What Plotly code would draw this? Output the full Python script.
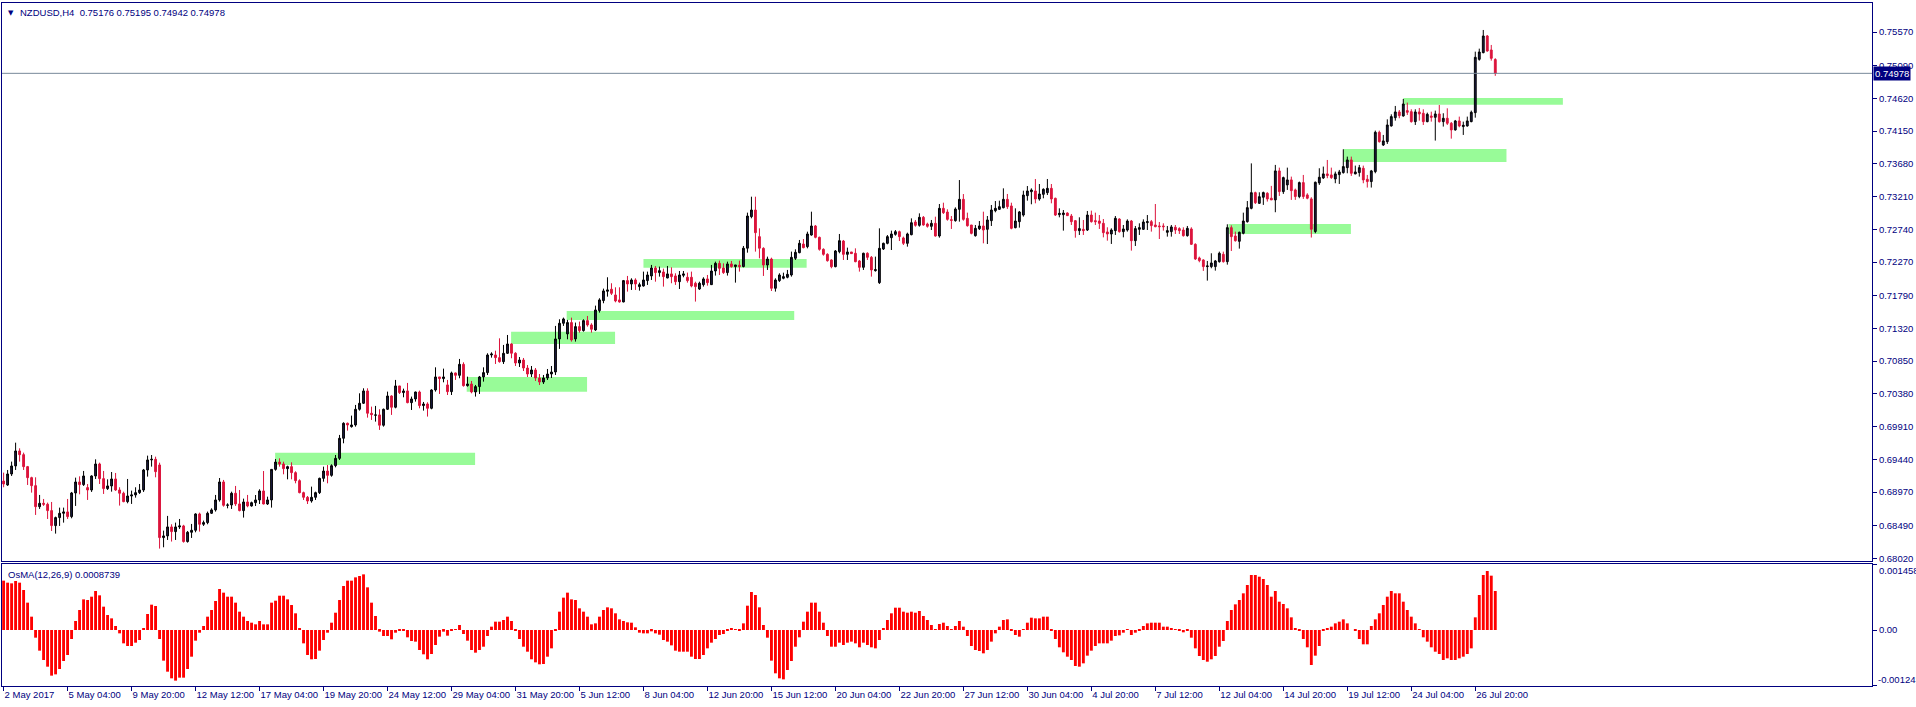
import plotly.graph_objects as go

# ---------------- data ----------------
symbol_title = "NZDUSD,H4  0.75176 0.75195 0.74942 0.74978"
osma_title = "OsMA(12,26,9) 0.0008739"

opens = [
0.69129,0.69072,0.69230,0.69345,0.69560,0.69507,0.69335,0.69177,0.69062,0.68761,
0.68809,0.68795,0.68704,0.68489,0.68604,0.68666,0.68685,0.68618,0.68957,0.69115,
0.69077,0.69034,0.69000,0.69201,0.69373,0.69163,0.69020,0.69058,0.69158,0.69000,
0.68953,0.68833,0.68914,0.68929,0.68962,0.69000,0.69287,0.69431,0.69440,0.69359,
0.68317,0.68341,0.68470,0.68403,0.68470,0.68484,0.68260,0.68393,0.68422,0.68656,
0.68508,0.68532,0.68666,0.68714,0.68857,0.69115,0.68780,0.68785,0.68953,0.68800,
0.68704,0.68828,0.68771,0.68818,0.68857,0.68986,0.68799,0.68857,0.69296,0.69401,
0.69373,0.69306,0.69335,0.69249,0.69134,0.68962,0.68895,0.68842,0.68895,0.68962,
0.69167,0.69272,0.69210,0.69349,0.69454,0.69742,0.69957,0.69909,0.69933,0.70158,
0.70244,0.70421,0.70101,0.70072,0.70077,0.69929,0.70158,0.70349,0.70187,0.70493,
0.70397,0.70421,0.70253,0.70306,0.70406,0.70211,0.70234,0.70172,0.70435,0.70622,
0.70598,0.70507,0.70411,0.70679,0.70645,0.70803,0.70497,0.70521,0.70406,0.70483,
0.70622,0.70684,0.70937,0.70937,0.70899,0.70841,0.70961,0.71095,0.70962,0.70822,
0.70865,0.70750,0.70664,0.70722,0.70607,0.70549,0.70607,0.70664,0.70693,0.71167,
0.71392,0.71239,0.71402,0.71167,0.71344,0.71287,0.71430,0.71368,0.71296,0.71574,
0.71717,0.71851,0.71880,0.71798,0.71727,0.71698,0.72004,0.71956,0.72013,0.71918,
0.71927,0.72004,0.72071,0.72185,0.72119,0.72128,0.72042,0.72100,0.72071,0.71989,
0.72080,0.72052,0.72052,0.71966,0.71884,0.71946,0.72028,0.71946,0.72142,0.72252,
0.72185,0.72119,0.72243,0.72205,0.72224,0.72205,0.72469,0.72922,0.73017,0.72635,
0.72467,0.72228,0.72314,0.71894,0.72004,0.72037,0.72052,0.72085,0.72324,0.72405,
0.72529,0.72491,0.72658,0.72788,0.72625,0.72453,0.72381,0.72300,0.72204,0.72420,
0.72572,0.72381,0.72415,0.72396,0.72286,0.72195,0.72396,0.72338,0.72147,0.71975,
0.72458,0.72539,0.72620,0.72668,0.72706,0.72616,0.72539,0.72663,0.72845,0.72797,
0.72912,0.72816,0.72783,0.72826,0.72644,0.73041,0.72988,0.72878,0.72864,0.73027,
0.73170,0.72897,0.72802,0.72649,0.72749,0.72788,0.72740,0.72864,0.73007,0.73027,
0.73050,0.73170,0.73075,0.72764,0.72850,0.72945,0.73223,0.73280,0.73290,0.73175,
0.73242,0.73266,0.73328,0.73185,0.72950,0.72950,0.72974,0.72931,0.72864,0.72721,
0.72740,0.72730,0.72945,0.72864,0.72859,0.72826,0.72702,0.72673,0.72721,0.72888,
0.72707,0.72730,0.72859,0.72577,0.72740,0.72740,0.72836,0.72850,0.72802,0.72788,
0.72788,0.72697,0.72707,0.72769,0.72750,0.72730,0.72649,0.72745,0.72525,0.72329,
0.72300,0.72205,0.72205,0.72205,0.72276,0.72381,0.72276,0.72764,0.72644,0.72568,
0.72683,0.72850,0.73041,0.73266,0.73113,0.73200,0.73257,0.73186,0.73162,0.73578,
0.73281,0.73377,0.73449,0.73305,0.73210,0.73410,0.73233,0.73176,0.72708,0.73406,
0.73477,0.73535,0.73520,0.73463,0.73525,0.73554,0.73625,0.73735,0.73535,0.73554,
0.73616,0.73458,0.73425,0.73568,0.74132,0.73950,0.73998,0.74223,0.74342,0.74424,
0.74366,0.74443,0.74428,0.74285,0.74424,0.74405,0.74285,0.74366,0.74347,0.74395,
0.74285,0.74333,0.74261,0.74166,0.74295,0.74214,0.74223,0.74285,0.74414,0.75179,
0.75275,0.75514,0.75313,0.75176]

highs = [
0.69249,0.69287,0.69407,0.69679,0.69598,0.69536,0.69345,0.69190,0.69182,0.68929,
0.68871,0.68819,0.68828,0.68618,0.68747,0.68747,0.68871,0.68972,0.69177,0.69196,
0.69273,0.69086,0.69211,0.69440,0.69392,0.69273,0.69153,0.69258,0.69244,0.69039,
0.68976,0.69158,0.68991,0.69039,0.69086,0.69302,0.69493,0.69502,0.69478,0.69392,
0.68417,0.68628,0.68508,0.68532,0.68584,0.68500,0.68412,0.68513,0.68666,0.68675,
0.68561,0.68690,0.68737,0.68929,0.69172,0.69144,0.68809,0.68976,0.69058,0.69000,
0.68876,0.68929,0.68833,0.68928,0.69010,0.69272,0.68904,0.69301,0.69445,0.69454,
0.69406,0.69349,0.69397,0.69268,0.69153,0.68976,0.68914,0.69048,0.68976,0.69177,
0.69335,0.69358,0.69368,0.69502,0.69790,0.69971,0.69967,0.70067,0.70220,0.70387,
0.70459,0.70459,0.70196,0.70206,0.70158,0.70168,0.70411,0.70359,0.70579,0.70493,
0.70454,0.70536,0.70340,0.70411,0.70426,0.70263,0.70258,0.70445,0.70760,0.70622,
0.70741,0.70579,0.70698,0.70684,0.70880,0.70832,0.70626,0.70564,0.70507,0.70636,
0.70760,0.70961,0.70975,0.70999,0.71176,0.71081,0.71224,0.71105,0.70976,0.70908,
0.70894,0.70793,0.70779,0.70750,0.70664,0.70650,0.70736,0.70779,0.71354,0.71449,
0.71473,0.71440,0.71473,0.71402,0.71416,0.71449,0.71497,0.71392,0.71645,0.71751,
0.71889,0.72052,0.71966,0.71908,0.71908,0.72013,0.72071,0.72037,0.72037,0.71975,
0.72133,0.72133,0.72229,0.72214,0.72205,0.72176,0.72214,0.72195,0.72109,0.72142,
0.72142,0.72119,0.72133,0.71989,0.71989,0.72052,0.72085,0.72229,0.72276,0.72291,
0.72252,0.72276,0.72286,0.72229,0.72291,0.72501,0.72979,0.73208,0.73208,0.72754,
0.72482,0.72348,0.72333,0.72037,0.72109,0.72118,0.72157,0.72420,0.72453,0.72587,
0.72601,0.72706,0.72993,0.72802,0.72635,0.72467,0.72396,0.72310,0.72443,0.72673,
0.72587,0.72477,0.72415,0.72467,0.72300,0.72405,0.72410,0.72357,0.72348,0.72754,
0.72549,0.72658,0.72721,0.72730,0.72721,0.72635,0.72692,0.72897,0.72874,0.72969,
0.72931,0.72835,0.72874,0.72921,0.73103,0.73122,0.73027,0.72931,0.73055,0.73447,
0.73246,0.72979,0.72802,0.72802,0.72859,0.72993,0.72931,0.73089,0.73146,0.73151,
0.73328,0.73247,0.73122,0.73041,0.73003,0.73294,0.73361,0.73328,0.73462,0.73390,
0.73328,0.73462,0.73390,0.73194,0.73041,0.73017,0.72984,0.72960,0.72874,0.72912,
0.72874,0.73003,0.73008,0.72979,0.72945,0.72888,0.72769,0.72754,0.72931,0.72898,
0.72802,0.72883,0.72874,0.72788,0.72826,0.72883,0.72945,0.72874,0.73103,0.72845,
0.72826,0.72788,0.72802,0.72802,0.72769,0.72769,0.72788,0.72769,0.72539,0.72348,
0.72310,0.72286,0.72396,0.72300,0.72420,0.72420,0.72812,0.72797,0.72707,0.72707,
0.72979,0.73146,0.73686,0.73280,0.73271,0.73281,0.73272,0.73363,0.73664,0.73625,
0.73496,0.73625,0.73496,0.73324,0.73425,0.73520,0.73257,0.73200,0.73425,0.73616,
0.73640,0.73735,0.73625,0.73568,0.73592,0.73888,0.73783,0.73783,0.73654,0.73664,
0.73654,0.73520,0.73592,0.74156,0.74156,0.74094,0.74318,0.74390,0.74510,0.74452,
0.74610,0.74558,0.74462,0.74462,0.74481,0.74462,0.74414,0.74428,0.74443,0.74524,
0.74405,0.74476,0.74280,0.74309,0.74357,0.74285,0.74357,0.74443,0.75289,0.75332,
0.75600,0.75528,0.75385,0.75195]

lows = [
0.69039,0.69058,0.69201,0.69287,0.69407,0.69287,0.69072,0.68962,0.68642,0.68728,
0.68771,0.68584,0.68412,0.68374,0.68484,0.68532,0.68584,0.68594,0.68771,0.68938,
0.69058,0.68857,0.68972,0.69158,0.69086,0.68943,0.69000,0.68976,0.68986,0.68776,
0.68824,0.68809,0.68800,0.68890,0.68943,0.68972,0.69192,0.69335,0.69182,0.68159,
0.68178,0.68283,0.68260,0.68283,0.68441,0.68245,0.68245,0.68312,0.68393,0.68403,
0.68484,0.68508,0.68656,0.68690,0.68833,0.68761,0.68737,0.68728,0.68771,0.68694,
0.68604,0.68752,0.68761,0.68770,0.68799,0.68794,0.68785,0.68747,0.69277,0.69335,
0.69225,0.69153,0.69153,0.69096,0.68952,0.68857,0.68799,0.68818,0.68857,0.68943,
0.69119,0.69096,0.69191,0.69325,0.69431,0.69670,0.69852,0.69895,0.69909,0.70139,
0.70234,0.70038,0.70005,0.69981,0.69862,0.69909,0.70148,0.70077,0.70172,0.70378,
0.70330,0.70244,0.70148,0.70268,0.70172,0.70139,0.70053,0.70158,0.70411,0.70378,
0.70545,0.70363,0.70363,0.70579,0.70603,0.70483,0.70483,0.70387,0.70340,0.70378,
0.70555,0.70650,0.70899,0.70808,0.70827,0.70808,0.70951,0.70890,0.70779,0.70765,
0.70707,0.70621,0.70621,0.70564,0.70506,0.70521,0.70578,0.70607,0.70650,0.71024,
0.71354,0.71162,0.71129,0.71129,0.71258,0.71272,0.71344,0.71258,0.71282,0.71545,
0.71679,0.71774,0.71798,0.71693,0.71688,0.71693,0.71846,0.71870,0.71870,0.71860,
0.71918,0.71942,0.72013,0.71989,0.72061,0.71918,0.72037,0.71966,0.71942,0.71884,
0.72052,0.71975,0.71908,0.71703,0.71870,0.71918,0.71932,0.71942,0.72076,0.72085,
0.72100,0.72076,0.72190,0.71975,0.72133,0.72195,0.72405,0.72898,0.72420,0.72324,
0.72071,0.72157,0.71855,0.71846,0.71985,0.72023,0.72037,0.72061,0.72300,0.72396,
0.72467,0.72467,0.72649,0.72611,0.72434,0.72362,0.72276,0.72181,0.72195,0.72396,
0.72300,0.72300,0.72386,0.72267,0.72133,0.72157,0.72300,0.72061,0.72133,0.71956,
0.72443,0.72525,0.72443,0.72649,0.72572,0.72515,0.72491,0.72654,0.72778,0.72778,
0.72792,0.72764,0.72730,0.72635,0.72620,0.72960,0.72864,0.72745,0.72850,0.72850,
0.72864,0.72778,0.72668,0.72635,0.72730,0.72539,0.72529,0.72788,0.72984,0.73017,
0.73041,0.73032,0.72740,0.72754,0.72764,0.72922,0.73151,0.73099,0.73113,0.73151,
0.73185,0.73232,0.73113,0.72931,0.72912,0.72721,0.72931,0.72802,0.72620,0.72659,
0.72659,0.72716,0.72836,0.72802,0.72745,0.72625,0.72577,0.72530,0.72659,0.72692,
0.72625,0.72707,0.72434,0.72501,0.72659,0.72730,0.72730,0.72707,0.72769,0.72601,
0.72721,0.72635,0.72635,0.72673,0.72673,0.72635,0.72635,0.72515,0.72300,0.72267,
0.72143,0.72004,0.72181,0.72147,0.72262,0.72262,0.72233,0.72429,0.72563,0.72463,
0.72668,0.72836,0.73027,0.73103,0.73103,0.73090,0.73138,0.73162,0.72985,0.73219,
0.73248,0.73305,0.73162,0.73162,0.73186,0.73176,0.73171,0.72622,0.72684,0.73377,
0.73463,0.73473,0.73463,0.73401,0.73391,0.73539,0.73544,0.73506,0.73530,0.73496,
0.73401,0.73339,0.73339,0.73544,0.73984,0.73936,0.73965,0.74214,0.74299,0.74333,
0.74357,0.74381,0.74271,0.74237,0.74299,0.74237,0.74276,0.74285,0.74013,0.74271,
0.74214,0.74237,0.74041,0.74156,0.74204,0.74094,0.74214,0.74276,0.74342,0.75160,
0.75265,0.75289,0.75160,0.74942]

closes = [
0.69086,0.69230,0.69345,0.69560,0.69507,0.69335,0.69177,0.69062,0.68761,0.68809,
0.68795,0.68704,0.68489,0.68604,0.68666,0.68685,0.68618,0.68957,0.69115,0.69077,
0.69201,0.69000,0.69201,0.69373,0.69163,0.69020,0.69058,0.69158,0.69000,0.68953,
0.68833,0.68914,0.68929,0.68962,0.69000,0.69287,0.69431,0.69440,0.69263,0.68317,
0.68341,0.68470,0.68403,0.68470,0.68484,0.68260,0.68393,0.68422,0.68656,0.68508,
0.68532,0.68666,0.68714,0.68857,0.69115,0.68780,0.68785,0.68953,0.68800,0.68704,
0.68828,0.68771,0.68818,0.68857,0.68986,0.68799,0.68857,0.69296,0.69401,0.69373,
0.69306,0.69335,0.69249,0.69134,0.68962,0.68895,0.68842,0.68895,0.68962,0.69167,
0.69272,0.69210,0.69349,0.69454,0.69742,0.69957,0.69933,0.69933,0.70158,0.70244,
0.70421,0.70101,0.70081,0.70077,0.69929,0.70158,0.70349,0.70187,0.70493,0.70397,
0.70421,0.70253,0.70306,0.70406,0.70211,0.70234,0.70172,0.70435,0.70622,0.70598,
0.70622,0.70411,0.70679,0.70645,0.70803,0.70497,0.70521,0.70406,0.70483,0.70622,
0.70684,0.70937,0.70951,0.70899,0.70841,0.70961,0.71095,0.70962,0.70822,0.70865,
0.70750,0.70664,0.70722,0.70607,0.70549,0.70607,0.70664,0.70693,0.71167,0.71392,
0.71454,0.71402,0.71153,0.71344,0.71287,0.71430,0.71368,0.71306,0.71583,0.71727,
0.71856,0.71870,0.71822,0.71712,0.71698,0.72004,0.71956,0.72013,0.71956,0.71946,
0.72013,0.72085,0.72185,0.72119,0.72147,0.72061,0.72100,0.72061,0.71989,0.72085,
0.72100,0.72004,0.71927,0.71918,0.71966,0.72028,0.71975,0.72142,0.72252,0.72181,
0.72119,0.72243,0.72205,0.72229,0.72205,0.72469,0.72931,0.73017,0.72692,0.72469,
0.72228,0.72314,0.71894,0.72013,0.72085,0.72061,0.72094,0.72338,0.72410,0.72539,
0.72477,0.72673,0.72788,0.72625,0.72453,0.72381,0.72290,0.72204,0.72429,0.72577,
0.72381,0.72415,0.72391,0.72276,0.72195,0.72396,0.72338,0.72157,0.72161,0.72467,
0.72539,0.72635,0.72673,0.72706,0.72635,0.72539,0.72673,0.72835,0.72797,0.72912,
0.72802,0.72783,0.72826,0.72644,0.73041,0.72979,0.72883,0.72869,0.73031,0.73170,
0.72883,0.72792,0.72682,0.72754,0.72788,0.72730,0.72874,0.73017,0.73041,0.73065,
0.73170,0.73065,0.72754,0.72859,0.72989,0.73232,0.73290,0.73304,0.73175,0.73247,
0.73314,0.73328,0.73175,0.72945,0.72969,0.72974,0.72936,0.72850,0.72721,0.72750,
0.72721,0.72945,0.72850,0.72850,0.72826,0.72692,0.72673,0.72730,0.72898,0.72707,
0.72745,0.72859,0.72577,0.72750,0.72764,0.72845,0.72850,0.72793,0.72778,0.72778,
0.72778,0.72721,0.72774,0.72730,0.72721,0.72649,0.72754,0.72525,0.72315,0.72291,
0.72205,0.72214,0.72257,0.72286,0.72396,0.72276,0.72764,0.72635,0.72577,0.72697,
0.72859,0.73051,0.73266,0.73122,0.73208,0.73267,0.73176,0.73162,0.73578,0.73281,
0.73482,0.73449,0.73295,0.73210,0.73410,0.73210,0.73186,0.72741,0.73415,0.73487,
0.73535,0.73511,0.73482,0.73535,0.73563,0.73640,0.73735,0.73544,0.73563,0.73625,
0.73449,0.73425,0.73578,0.74132,0.73998,0.74008,0.74237,0.74357,0.74424,0.74371,
0.74538,0.74419,0.74285,0.74424,0.74395,0.74285,0.74390,0.74347,0.74395,0.74285,
0.74333,0.74261,0.74166,0.74295,0.74223,0.74233,0.74295,0.74419,0.75208,0.75284,
0.75514,0.75298,0.75193,0.74978]

osma = [
0.001106,0.001061,0.001046,0.001098,0.001061,0.000896,0.000613,0.000299,-0.000172,-0.000463,
-0.000672,-0.000822,-0.001023,-0.000994,-0.000874,-0.000695,-0.000560,-0.000202,0.000202,0.000448,
0.000687,0.000672,0.000747,0.000874,0.000777,0.000523,0.000336,0.000261,0.000090,-0.000075,
-0.000299,-0.000359,-0.000359,-0.000284,-0.000224,0.000037,0.000359,0.000568,0.000538,-0.000202,
-0.000687,-0.000934,-0.001083,-0.001135,-0.001068,-0.001068,-0.000874,-0.000598,-0.000239,-0.000060,
0.000090,0.000299,0.000448,0.000650,0.000919,0.000837,0.000747,0.000747,0.000613,0.000411,
0.000299,0.000202,0.000164,0.000127,0.000202,0.000127,0.000127,0.000613,0.000657,0.000769,
0.000769,0.000687,0.000560,0.000374,0.000037,-0.000299,-0.000560,-0.000657,-0.000650,-0.000463,
-0.000224,-0.000060,0.000164,0.000388,0.000672,0.000986,0.001106,0.001106,0.001180,0.001210,
0.001247,0.000956,0.000613,0.000314,-0.000037,-0.000134,-0.000134,-0.000209,-0.000060,-0.000022,
-0.000015,-0.000164,-0.000247,-0.000261,-0.000448,-0.000545,-0.000657,-0.000538,-0.000336,-0.000149,
-0.000037,-0.000127,-0.000015,0.000022,0.000112,-0.000090,-0.000239,-0.000448,-0.000508,-0.000448,
-0.000374,-0.000134,0.000075,0.000187,0.000187,0.000224,0.000299,0.000202,-0.000022,-0.000202,
-0.000374,-0.000486,-0.000657,-0.000725,-0.000769,-0.000762,-0.000598,-0.000411,-0.000022,0.000411,
0.000725,0.000837,0.000687,0.000672,0.000486,0.000411,0.000299,0.000127,0.000149,0.000299,
0.000448,0.000508,0.000486,0.000374,0.000239,0.000202,0.000172,0.000164,0.000060,-0.000060,
-0.000075,-0.000075,-0.000030,-0.000075,-0.000105,-0.000224,-0.000261,-0.000344,-0.000463,-0.000486,
-0.000486,-0.000486,-0.000598,-0.000650,-0.000650,-0.000560,-0.000411,-0.000284,-0.000202,-0.000112,
-0.000090,-0.000022,0.000030,0.000015,-0.000022,0.000149,0.000545,0.000852,0.000784,0.000508,
0.000112,-0.000172,-0.000687,-0.000971,-0.001083,-0.001106,-0.000896,-0.000695,-0.000374,-0.000164,
0.000187,0.000411,0.000613,0.000613,0.000411,0.000164,-0.000134,-0.000374,-0.000374,-0.000284,
-0.000336,-0.000284,-0.000261,-0.000299,-0.000388,-0.000284,-0.000336,-0.000388,-0.000411,-0.000224,
0.000037,0.000224,0.000374,0.000500,0.000500,0.000411,0.000388,0.000411,0.000388,0.000426,
0.000314,0.000224,0.000112,0.000015,0.000134,0.000164,0.000090,0.000022,0.000090,0.000202,
0.000075,-0.000134,-0.000359,-0.000448,-0.000471,-0.000523,-0.000448,-0.000261,-0.000075,0.000075,
0.000224,0.000239,-0.000015,-0.000112,-0.000149,0.000022,0.000164,0.000276,0.000261,0.000261,
0.000299,0.000299,-0.000015,-0.000202,-0.000388,-0.000500,-0.000598,-0.000672,-0.000807,-0.000822,
-0.000747,-0.000575,-0.000463,-0.000359,-0.000299,-0.000299,-0.000299,-0.000239,-0.000134,-0.000120,
-0.000060,0.000015,-0.000112,-0.000060,-0.000022,0.000090,0.000149,0.000164,0.000164,0.000164,
0.000075,0.000075,0.000037,0.000015,-0.000022,-0.000052,-0.000015,-0.000172,-0.000411,-0.000583,
-0.000672,-0.000710,-0.000657,-0.000583,-0.000374,-0.000247,0.000202,0.000448,0.000575,0.000672,
0.000822,0.001008,0.001233,0.001233,0.001195,0.001143,0.001008,0.000747,0.000874,0.000635,
0.000583,0.000486,0.000284,0.000037,-0.000022,-0.000202,-0.000388,-0.000784,-0.000575,-0.000359,
-0.000022,0.000037,0.000075,0.000149,0.000187,0.000239,0.000149,0.000000,-0.000022,-0.000202,
-0.000321,-0.000321,0.000090,0.000239,0.000374,0.000560,0.000747,0.000874,0.000822,0.000822,
0.000635,0.000448,0.000299,0.000149,0.000015,-0.000164,-0.000261,-0.000388,-0.000486,-0.000538,
-0.000672,-0.000635,-0.000672,-0.000672,-0.000635,-0.000598,-0.000538,-0.000411,0.000284,0.000784,
0.001233,0.001322,0.001218,0.0008739]

# time-axis labels (one every 16 H4 bars)
date_tick_bars = [0, 16, 32, 48, 64, 80, 96, 112, 128, 144, 160, 176, 192, 208, 224, 240,
                  256, 272, 288, 304, 320, 336, 352, 368]
date_tick_labels = ["2 May 2017", "5 May 04:00", "9 May 20:00", "12 May 12:00", "17 May 04:00",
                    "19 May 20:00", "24 May 12:00", "29 May 04:00", "31 May 20:00", "5 Jun 12:00",
                    "8 Jun 04:00", "12 Jun 20:00", "15 Jun 12:00", "20 Jun 04:00", "22 Jun 20:00",
                    "27 Jun 12:00", "30 Jun 04:00", "4 Jul 20:00", "7 Jul 12:00", "12 Jul 04:00",
                    "14 Jul 20:00", "19 Jul 12:00", "24 Jul 04:00", "26 Jul 20:00"]

price_ticks = [0.75570, 0.75090, 0.74620, 0.74150, 0.73680, 0.73210, 0.72740, 0.72270, 0.71790,
               0.71320, 0.70850, 0.70380, 0.69910, 0.69440, 0.68970, 0.68490, 0.68020]
osma_max_label = "0.001458"
osma_zero_label = "0.00"
osma_min_label = "-0.001243"
osma_ticks = [0.001458, 0.0, -0.001243]

# supply / demand zones (bar index span, price span)
zone_start = [67.9, 115.8, 126.9, 140.8, 160.0, 306.3, 335.0, 350.0]
zone_end = [117.9, 145.9, 152.9, 197.7, 200.8, 336.9, 375.8, 389.9]
zone_low = [0.69359, 0.70410, 0.71095, 0.71439, 0.72189, 0.72673, 0.73706, 0.74528]
zone_high = [0.69535, 0.70621, 0.71271, 0.71567, 0.72314, 0.72816, 0.73892, 0.74624]

# ---------------- figure ----------------
NAVY = "#000080"
FONT = "Tahoma, 'Liberation Sans', Arial, sans-serif"
FS = 9.5
bars = list(range(len(closes)))
last_price = closes[-1]

fig = go.Figure()
fig.add_trace(go.Candlestick(
    x=bars, open=opens, high=highs, low=lows, close=closes,
    increasing=dict(line=dict(color="#000000", width=1), fillcolor="#1c1c44"),
    decreasing=dict(line=dict(color="#DC143C", width=1), fillcolor="#DC143C"),
    whiskerwidth=0, xaxis="x", yaxis="y", hoverinfo="skip", showlegend=False))
fig.add_trace(go.Bar(
    x=bars, y=osma, width=0.72, marker=dict(color="#FF0000", line=dict(width=0)),
    xaxis="x2", yaxis="y2", hoverinfo="skip", showlegend=False))

shapes = []
for x0, x1, lo, hi in zip(zone_start, zone_end, zone_low, zone_high):
    shapes.append(dict(type="rect", xref="x", yref="y", x0=x0, x1=x1, y0=lo, y1=hi,
                       fillcolor="#98FB98", line=dict(width=0), layer="below"))
shapes.append(dict(type="line", xref="paper", yref="y", x0=0, x1=1, y0=last_price, y1=last_price,
                   line=dict(color="#778899", width=1)))

xr = [-0.4, 467.2]
common_x = dict(range=xr, showgrid=False, zeroline=False, showline=True, mirror=True,
                linecolor=NAVY, linewidth=1, fixedrange=True, automargin=False)
common_y = dict(side="right", showgrid=False, zeroline=False, showline=True, mirror=True,
                linecolor=NAVY, linewidth=1, ticks="outside", ticklen=4, tickcolor=NAVY,
                tickfont=dict(family=FONT, size=FS, color=NAVY), automargin=False)

fig.update_layout(
    template="none",
    width=1916, height=707,
    margin=dict(l=2, r=44, t=3, b=21),
    paper_bgcolor="white", plot_bgcolor="white",
    showlegend=False, boxgap=0.35, bargap=0.2,
    font=dict(family=FONT, size=FS, color=NAVY),
    xaxis=dict(common_x, anchor="y", domain=[0, 1], showticklabels=False, ticks="",
               rangeslider=dict(visible=False)),
    yaxis=dict(common_y, anchor="x", domain=[0.1830, 1.0], range=[0.67981, 0.75987],
               tickvals=price_ticks, ticktext=["%.5f" % v for v in price_ticks]),
    xaxis2=dict(common_x, anchor="y2", domain=[0, 1], tickvals=date_tick_bars,
                ticktext=date_tick_labels, ticks="outside", ticklen=4, tickcolor=NAVY,
                ticklabelposition="outside right", tickangle=0,
                tickfont=dict(family=FONT, size=FS, color=NAVY)),
    yaxis2=dict(common_y, anchor="x2", domain=[0, 0.1786], range=[-0.001255, 0.001479],
                tickvals=osma_ticks, ticktext=["", osma_zero_label, ""]),
    shapes=shapes,
    annotations=[
        dict(text="\u25BC", xref="paper", yref="paper", x=0, y=1, xanchor="left", yanchor="top",
             xshift=4, yshift=-4, showarrow=False, font=dict(family="DejaVu Sans", size=7, color=NAVY)),
        dict(text=symbol_title, xref="paper", yref="paper", x=0, y=1, xanchor="left",
             yanchor="top", xshift=16, yshift=-2, showarrow=False,
             font=dict(family=FONT, size=FS, color=NAVY)),
        dict(text=osma_title, xref="paper", yref="y2 domain", x=0, y=1, xanchor="left",
             yanchor="top", xshift=4, yshift=-3, showarrow=False,
             font=dict(family=FONT, size=FS, color=NAVY)),
        dict(text=osma_max_label, xref="paper", yref="y2 domain", x=1, y=1, xanchor="left",
             yanchor="top", xshift=5, yshift=1, showarrow=False,
             font=dict(family=FONT, size=FS, color=NAVY)),
        dict(text=osma_min_label, xref="paper", yref="y2 domain", x=1, y=0, xanchor="left",
             yanchor="bottom", xshift=4, yshift=-1, showarrow=False,
             font=dict(family=FONT, size=FS, color=NAVY)),
        dict(text="%.5f" % last_price, xref="paper", yref="y", x=1, y=last_price,
             xanchor="left", yanchor="middle", xshift=1, showarrow=False,
             bgcolor=NAVY, borderpad=1, font=dict(family=FONT, size=FS, color="white")),
    ],
)

fig.write_html("out.html", config={"displayModeBar": False},
               post_script="document.body.style.margin='0';document.body.style.overflow='hidden';")
